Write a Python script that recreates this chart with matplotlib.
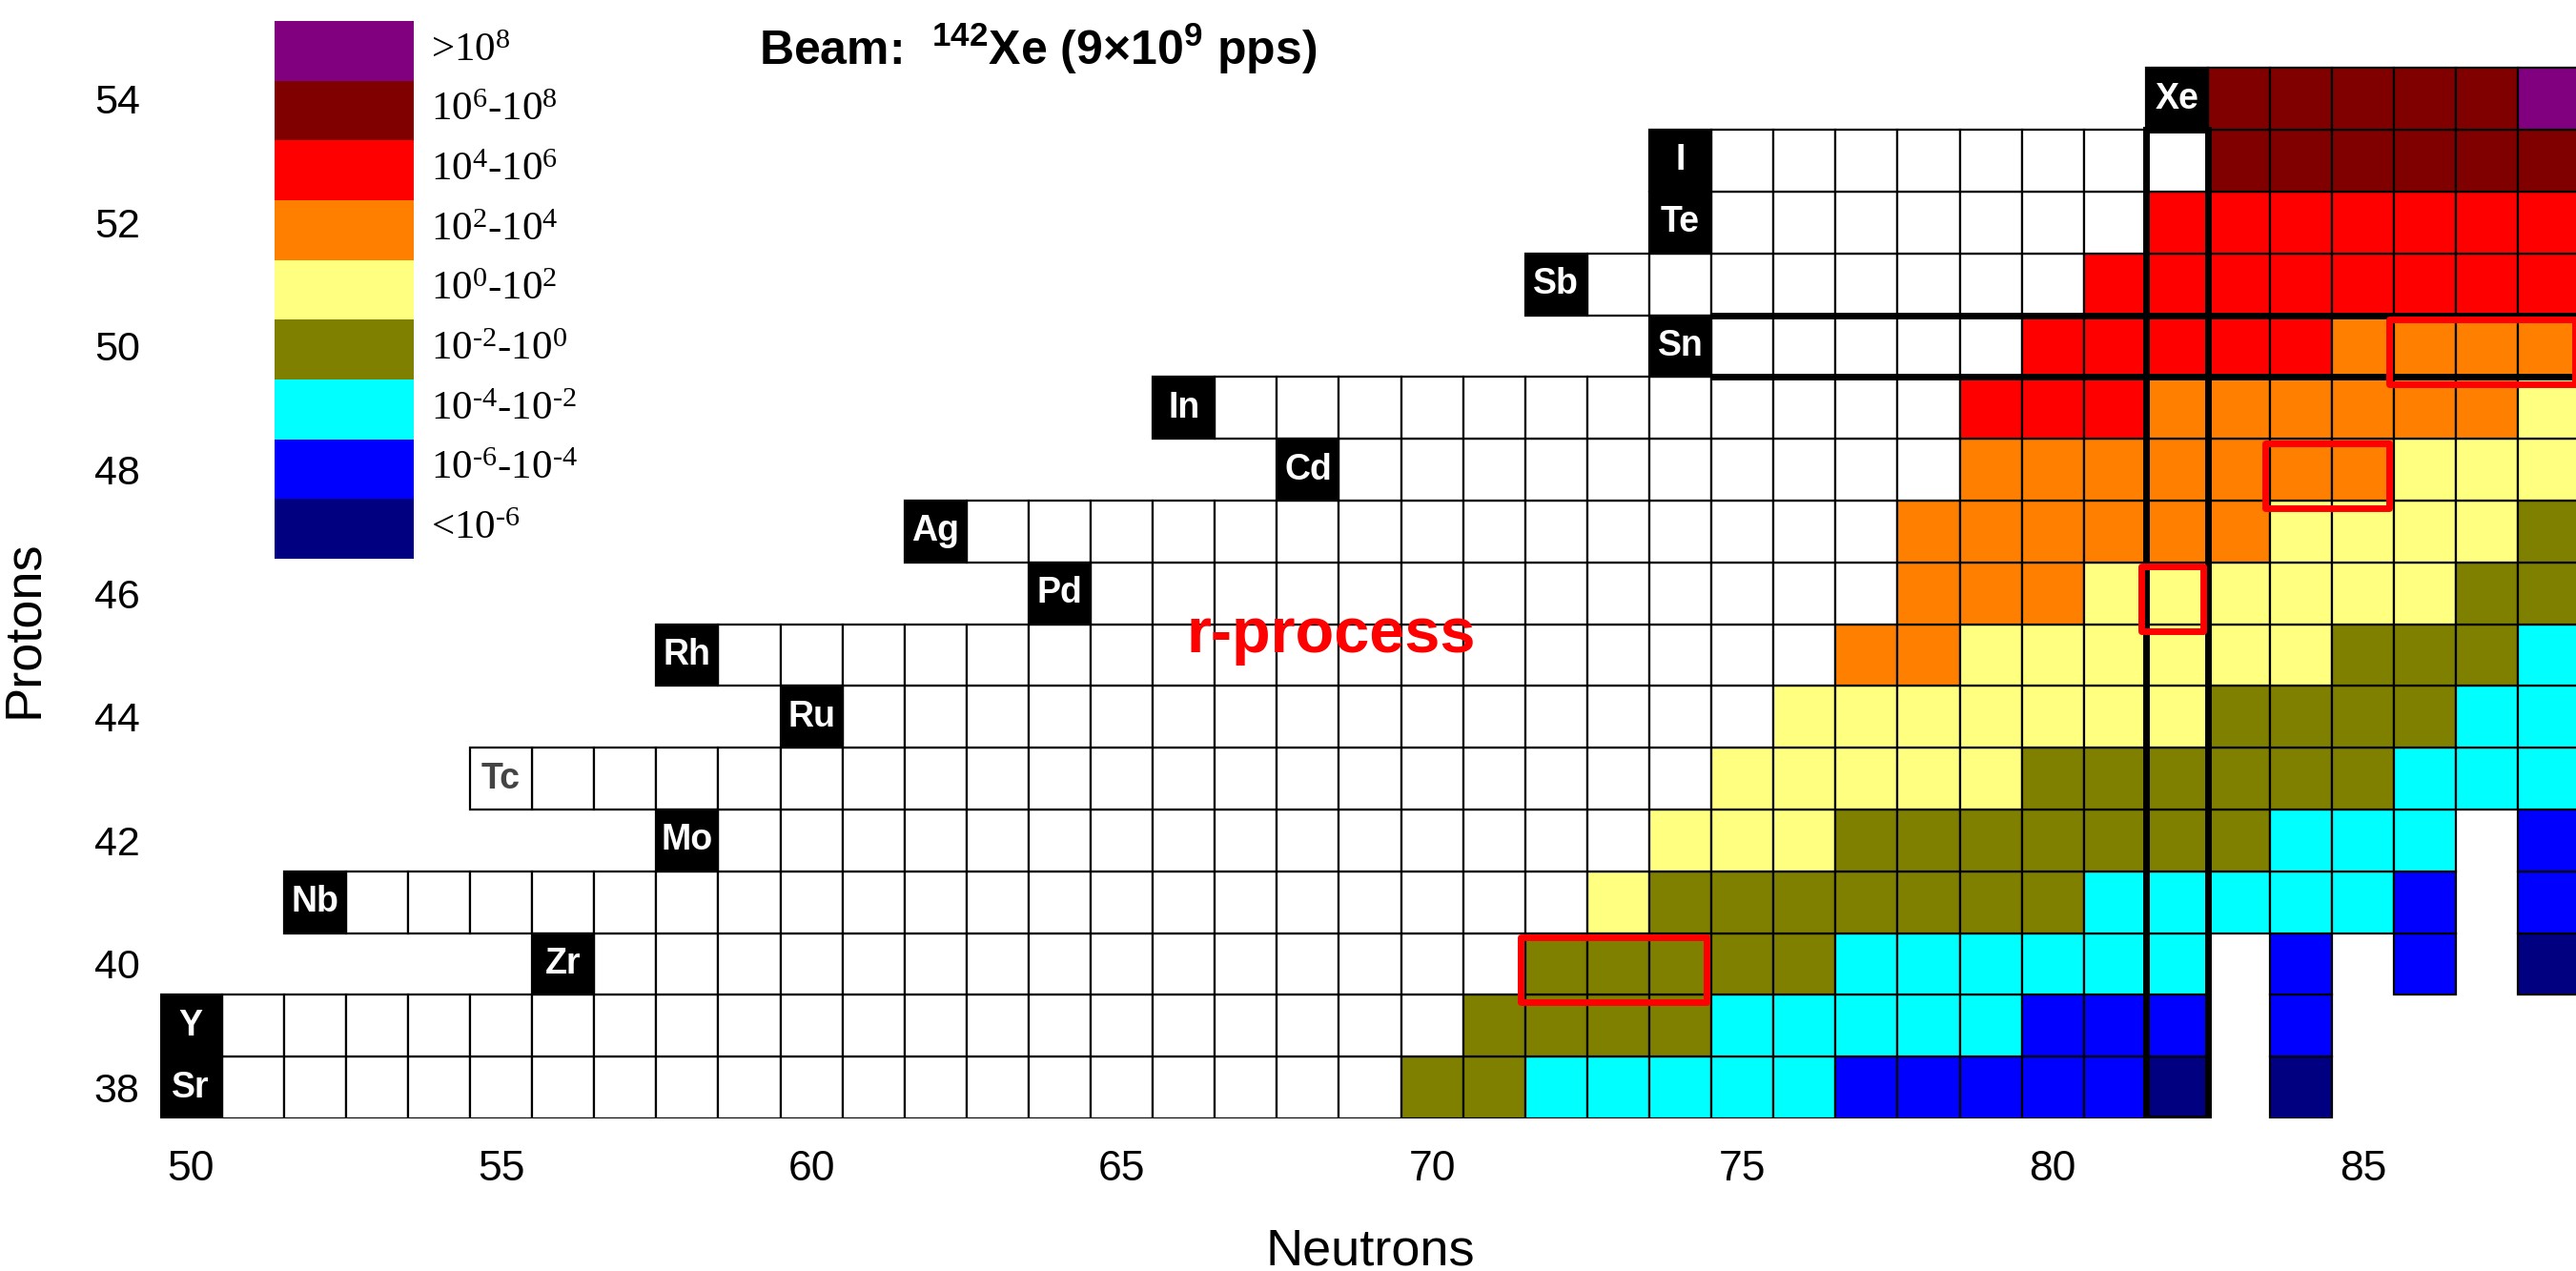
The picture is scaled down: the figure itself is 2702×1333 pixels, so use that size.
import matplotlib
matplotlib.use('Agg')
import matplotlib.pyplot as plt
from matplotlib.patches import Rectangle

plt.rcParams['font.family'] = ['Liberation Sans', 'DejaVu Sans']
plt.rcParams['mathtext.default'] = 'regular'

# yield categories (pps), lowest to highest
rate_labels = ['<$10^{‐6}$', '$10^{‐6}$-$10^{‐4}$', '$10^{‐4}$-$10^{‐2}$', '$10^{‐2}$-$10^{0}$',
               '$10^{0}$-$10^{2}$', '$10^{2}$-$10^{4}$', '$10^{4}$-$10^{6}$', '$10^{6}$-$10^{8}$', '>$10^{8}$']
rate_colors = ['#000080', '#0000FF', '#00FFFF', '#808000', '#FFFF80',
               '#FF8000', '#FF0000', '#800000', '#800080']

protons = list(range(38, 55))
elements = ['Sr', 'Y', 'Zr', 'Nb', 'Mo', 'Tc', 'Ru', 'Rh', 'Pd', 'Ag', 'Cd', 'In', 'Sn', 'Sb', 'Te', 'I', 'Xe']
label_n = [50, 50, 56, 52, 58, 55, 60, 58, 64, 62, 68, 66, 74, 72, 74, 74, 82]

# one string per proton row, neutrons 50..88
# '-' = no cell, 'w' = isotope without yield, digit = yield category
n_first = 50
rows = [
    '-' + 'w' * 19 + '33' + '22222' + '11111' + '0' + '-0' + '----',   # Sr
    '-' + 'w' * 20 + '3333' + '22222' + '111' + '-1' + '----',         # Y
    '-' * 7 + 'w' * 15 + '33333' + '222222' + '-1-1-0',                # Zr
    '-' * 3 + 'w' * 20 + '4' + '3333333' + '22222' + '1-1',            # Nb
    '-' * 9 + 'w' * 15 + '444' + '3333333' + '222' + '-1',             # Mo
    '-' * 6 + 'w' * 19 + '44444' + '333333' + '222',                   # Tc
    '-' * 11 + 'w' * 15 + '4444444' + '3333' + '22',                   # Ru
    '-' * 9 + 'w' * 18 + '55' + '444444' + '333' + '2',                # Rh
    '-' * 15 + 'w' * 13 + '555' + '444444' + '33',                     # Pd
    '-' * 13 + 'w' * 15 + '555555' + '4444' + '3',                     # Ag
    '-' * 19 + 'w' * 10 + '5555555' + '444',                           # Cd
    '-' * 17 + 'w' * 12 + '666' + '555555' + '4',                      # In
    '-' * 25 + 'w' * 5 + '66666' + '5555',                             # Sn
    '-' * 23 + 'w' * 8 + '66666666',                                   # Sb
    '-' * 25 + 'w' * 7 + '6666666',                                    # Te
    '-' * 25 + 'w' * 8 + '777777',                                     # I
    '-' * 33 + '77777' + '8',                                          # Xe
]

# highlighted isotopes: (Z, first N, last N)
highlights = [(40, 72, 74), (46, 82, 82), (48, 84, 85), (50, 86, 88)]

fig = plt.figure(figsize=(27.02, 13.33), dpi=100)
ax = fig.add_axes([167.5 / 2702, 160 / 1333, 1 - 167.5 / 2702, 1173 / 1333])

for z, row in zip(protons, rows):
    ns, cols = [], []
    for i, code in enumerate(row):
        if code == '-':
            continue
        ns.append(n_first + i)
        cols.append('white' if code == 'w' else rate_colors[int(code)])
    ax.bar(ns, 1.0, bottom=z - 0.5, width=1.0, color=cols, edgecolor='black', linewidth=1.6, zorder=1)

# element name boxes
for z, el, n in zip(protons, elements, label_n):
    face = 'white' if el == 'Tc' else 'black'
    ax.bar(n, 1.0, bottom=z - 0.5, width=1.0, color=face, edgecolor='black', linewidth=1.6, zorder=1)
    ax.text(n, z, el, color='#444444' if el == 'Tc' else 'white', ha='center', va='center',
            fontsize=27, fontweight='bold', zorder=2)

# magic numbers N=82, Z=50
ax.add_patch(Rectangle((81.5, 37.5), 1, 16, fill=False, edgecolor='black', linewidth=5, zorder=3))
ax.hlines([49.5, 50.5], 74.5, 88.5, colors='black', linewidth=5, zorder=3)

for z, n0, n1 in highlights:
    ax.add_patch(Rectangle((n0 - 0.58, z - 0.62), n1 - n0 + 1, 1.05, fill=False,
                           edgecolor='red', linewidth=5, joinstyle='round', zorder=4))

ax.text(66.05, 45.04, 'r-process', color='red', fontsize=48, fontweight='bold', va='baseline')
ax.text(59.15, 54.55, 'Beam:  $^{142}$Xe (9×10$^{9}$ pps)', fontsize=36, fontweight='bold', va='baseline')

ax.set_xlim(49.5, 88.43)
ax.set_ylim(37.5, 55.6)
ax.set_xticks(range(50, 90, 5))
ax.set_yticks(range(38, 55, 2))
ax.tick_params(axis='x', length=0, pad=24, labelsize=32)
ax.tick_params(axis='y', length=0, pad=15, labelsize=31)
for s in ax.spines.values():
    s.set_visible(False)
ax.set_xlabel('Neutrons', fontsize=39)
ax.xaxis.set_label_coords(0.501, -0.098)
ax.set_ylabel('Protons', fontsize=39)
ax.yaxis.set_label_coords(-0.0464, 0.438)

# colour key
lax = fig.add_axes([288 / 2702, 1 - 586 / 1333, 146 / 2702, 564 / 1333])
lax.barh(range(len(rate_colors)), 1.0, height=1.0, color=rate_colors)
lax.set_xlim(0, 1)
lax.set_ylim(-0.5, len(rate_colors) - 0.5)
lax.axis('off')
for i, lab in enumerate(rate_labels):
    lax.text(1.12, i, lab, va='center', ha='left', fontsize=31, family='Liberation Serif', clip_on=False)

fig.savefig('out.png', dpi=100)
